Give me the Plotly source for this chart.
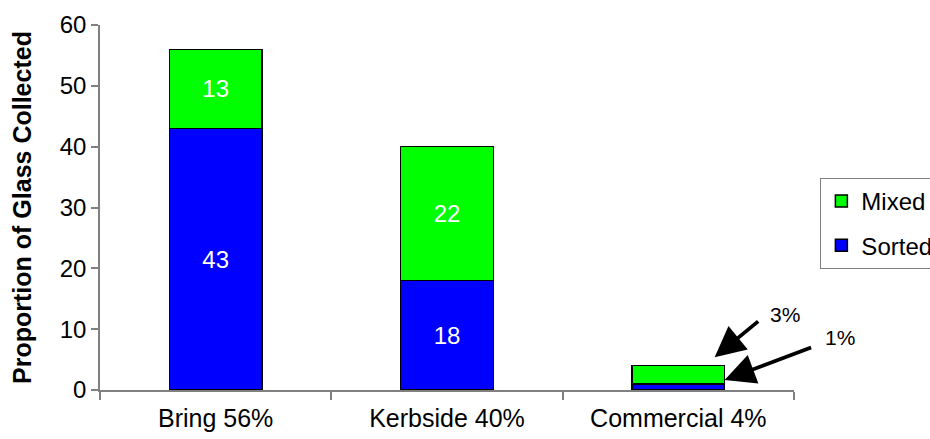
import plotly.graph_objects as go

# Glass collection by scheme, split into sorted and mixed streams
categories = ["Bring 56%", "Kerbside 40%", "Commercial 4%"]
sorted_vals = [43, 18, 1]
mixed_vals = [13, 22, 3]
# Values printed inside the bars (the thin commercial bars are labelled by arrows instead)
sorted_labels = ["43", "18", ""]
mixed_labels = ["13", "22", ""]
y_ticks = [0, 10, 20, 30, 40, 50, 60]

FONT = "Liberation Sans, Arial, sans-serif"

fig = go.Figure()
fig.add_trace(go.Bar(
    name="Sorted", x=categories, y=sorted_vals, legendgroup="sorted", legendrank=2,
    text=sorted_labels, textposition="inside", insidetextanchor="middle",
    textfont=dict(color="white", size=24, family=FONT),
    marker=dict(color="#0000FF", line=dict(color="black", width=1.5)),
    hoverinfo="x+y",
))
fig.add_trace(go.Bar(
    name="Mixed", x=categories, y=mixed_vals, legendgroup="mixed", legendrank=1,
    text=mixed_labels, textposition="inside", insidetextanchor="middle",
    textfont=dict(color="white", size=24, family=FONT),
    marker=dict(color="#00FF00", line=dict(color="black", width=1.5)),
    hoverinfo="x+y",
))

# Arrows pointing at the two commercial segments
arrow_style = dict(showarrow=True, arrowhead=2, arrowsize=1.6, arrowwidth=3.8,
                   arrowcolor="black", text="", xref="x", yref="y")
fig.add_annotation(x=2.157, y=mixed_vals[2] + sorted_vals[2] + 1.4,
                   ax=45, ay=-37, **arrow_style)
fig.add_annotation(x=2.2, y=sorted_vals[2] + 0.64, ax=88, ay=-33, **arrow_style)
label_style = dict(xref="paper", yref="paper", showarrow=False,
                   xanchor="center", yanchor="middle",
                   font=dict(size=21, family=FONT, color="black"))
fig.add_annotation(x=0.987, y=0.206, text=f"{mixed_vals[2]}%", **label_style)
fig.add_annotation(x=1.066, y=0.145, text=f"{sorted_vals[2]}%", **label_style)

fig.update_layout(
    width=930, height=439,
    barmode="stack", bargap=0.6,
    paper_bgcolor="white", plot_bgcolor="white",
    margin=dict(l=100, r=136, t=25, b=49, autoexpand=False),
    font=dict(family=FONT, size=24, color="black"),
    showlegend=True,
    legend=dict(
        x=1.038, y=0.581, xanchor="left", yanchor="top",
        traceorder="grouped", tracegroupgap=10,
        bordercolor="#808080", borderwidth=1,
        bgcolor="white", font=dict(size=24, family=FONT),
        itemwidth=30,
    ),
    xaxis=dict(
        type="category", range=[-0.5, 2.5], autorange=False,
        showline=True, linecolor="#808080", linewidth=1.5,
        ticks="outside", tickson="boundaries", ticklen=8, tickcolor="#808080",
        tickwidth=1.5, showgrid=False, tickfont=dict(size=25, family=FONT),
        ticklabelstandoff=5,
    ),
    yaxis=dict(
        range=[0, 60], autorange=False, tickvals=y_ticks, showline=True,
        linecolor="#808080", linewidth=1.5, ticks="outside", ticklen=7,
        tickcolor="#808080", tickwidth=1.5, showgrid=False, zeroline=False,
        tickfont=dict(size=24, family=FONT),
        title=dict(text="<b>Proportion of Glass Collected</b>", standoff=21,
                   font=dict(size=25, family=FONT)),
    ),
)

fig.write_html("out.html")
